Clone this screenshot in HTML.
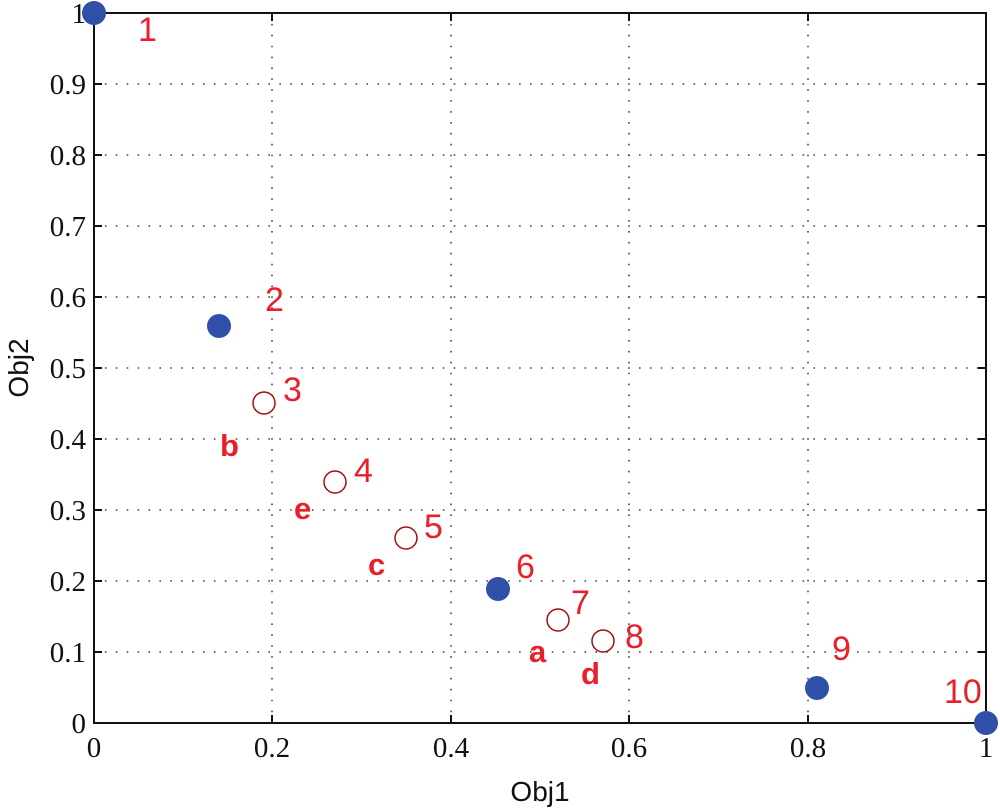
<!DOCTYPE html>
<html><head><style>body{margin:0;background:#fff}</style></head><body>
<svg width="1000" height="807" xmlns="http://www.w3.org/2000/svg" font-family="Liberation Serif, serif">
<g stroke="#444" stroke-width="1.6" stroke-dasharray="1.6,9.3">
<line x1="272" y1="13" x2="272" y2="723"/><line x1="451" y1="13" x2="451" y2="723"/><line x1="629" y1="13" x2="629" y2="723"/><line x1="808" y1="13" x2="808" y2="723"/>
<line x1="94" y1="84" x2="986" y2="84"/><line x1="94" y1="155" x2="986" y2="155"/><line x1="94" y1="226" x2="986" y2="226"/><line x1="94" y1="297" x2="986" y2="297"/><line x1="94" y1="368" x2="986" y2="368"/><line x1="94" y1="439" x2="986" y2="439"/><line x1="94" y1="510" x2="986" y2="510"/><line x1="94" y1="581" x2="986" y2="581"/><line x1="94" y1="652" x2="986" y2="652"/>
</g>
<rect x="94" y="13" width="892" height="710" fill="none" stroke="#111" stroke-width="2"/>
<g stroke="#111" stroke-width="2">
<path d="M272 723v-8M451 723v-8M629 723v-8M808 723v-8M272 13v8M451 13v8M629 13v8M808 13v8"/>
<path d="M94 84h8M94 155h8M94 226h8M94 297h8M94 368h8M94 439h8M94 510h8M94 581h8M94 652h8M986 84h-8M986 155h-8M986 226h-8M986 297h-8M986 368h-8M986 439h-8M986 510h-8M986 581h-8M986 652h-8"/>
</g>
<g font-size="29" fill="#111" text-anchor="end">
<text x="86" y="23">1</text><text x="86" y="94">0.9</text><text x="86" y="165">0.8</text><text x="86" y="236">0.7</text><text x="86" y="307">0.6</text><text x="86" y="378">0.5</text><text x="86" y="449">0.4</text><text x="86" y="520">0.3</text><text x="86" y="591">0.2</text><text x="86" y="662">0.1</text><text x="86" y="733">0</text>
</g>
<g font-size="29" fill="#111" text-anchor="middle">
<text x="94" y="757">0</text><text x="272" y="757">0.2</text><text x="451" y="757">0.4</text><text x="629" y="757">0.6</text><text x="808" y="757">0.8</text><text x="986" y="757">1</text>
</g>
<text x="540" y="801" font-family="Liberation Sans, sans-serif" font-size="28" text-anchor="middle" fill="#111">Obj1</text>
<text transform="translate(28,368) rotate(-90)" font-family="Liberation Sans, sans-serif" font-size="28" text-anchor="middle" fill="#111">Obj2</text>
<g fill="#2f4fa8">
<circle cx="94" cy="13" r="12"/><circle cx="219" cy="326" r="12"/><circle cx="498" cy="589" r="12"/><circle cx="817" cy="688" r="12"/><circle cx="986" cy="723" r="12"/>
</g>
<g fill="#fff" stroke="#a01010" stroke-width="1.5">
<circle cx="264" cy="403" r="11"/><circle cx="335" cy="482" r="11"/><circle cx="406" cy="538" r="11"/><circle cx="558" cy="620" r="11"/><circle cx="603" cy="641" r="11"/>
</g>
<g font-family="Liberation Sans, sans-serif" font-size="34" fill="#e8202a">
<text x="138" y="41">1</text><text x="265" y="311">2</text><text x="283" y="401">3</text><text x="354" y="482">4</text><text x="424" y="538">5</text><text x="516" y="578">6</text><text x="571" y="614">7</text><text x="625" y="648">8</text><text x="832" y="660">9</text><text x="944" y="703">10</text>
</g>
<g font-family="Liberation Sans, sans-serif" font-size="31" font-weight="bold" fill="#e8202a">
<text x="220" y="456">b</text><text x="294" y="519">e</text><text x="368" y="575">c</text><text x="529" y="662">a</text><text x="581" y="684">d</text>
</g>
</svg>
</body></html>
